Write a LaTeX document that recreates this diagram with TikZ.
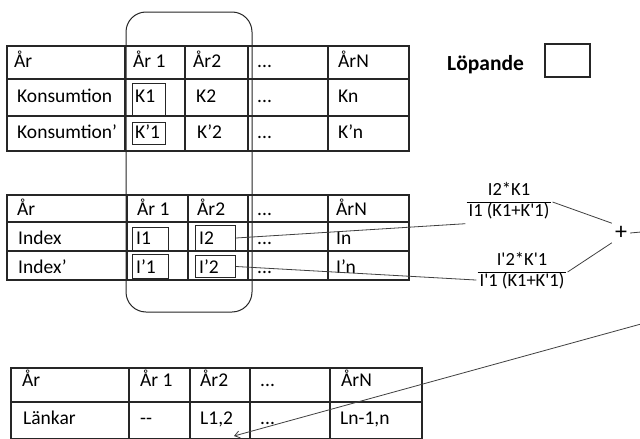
\documentclass[tikz,border=0pt]{standalone}
\usepackage{fontspec}
\setmainfont{Carlito}
\usetikzlibrary{arrows.meta}
\setlength{\arrayrulewidth}{1pt}
\begin{document}
\begin{tikzpicture}[x=1pt,y=-1pt,
  grid/.style={line width=1.1pt, black!85},
  cell/.style={anchor=base west, inner sep=0pt, font=\fontsize{19.5}{22}\selectfont},
  hl/.style={draw, line width=1pt, black!85, inner sep=0pt, anchor=north west},
  frac/.style={inner sep=1pt, font=\fontsize{18.5}{20}\selectfont},
  conn/.style={line width=0.8pt, black!75},
]
\useasboundingbox (0,0) rectangle (640,439);
\fill[white] (0,0) rectangle (640,439);
\clip (0,0) rectangle (640,439);

% ---------- top table ----------
\draw[grid] (7,46) rectangle (409,151);
\draw[grid] (7,79) -- (409,79) (7,116) -- (409,116);
\foreach \x in {125,185,248,328} \draw[grid] (\x,46) -- (\x,151);
\node[cell] (t11) at (14,67) {År};
\node[cell] (t12) at (133,67) {År 1};
\node[cell] (t13) at (193,67) {År2};
\node[cell] (t14) at (257,67) {...};
\node[cell] (t15) at (338,67) {ÅrN};
\node[cell] (t21) at (17,102) {Konsumtion};
\node[cell] (t22) at (135,102) {K1};
\node[cell] (t23) at (196,102) {K2};
\node[cell] (t24) at (257,102) {...};
\node[cell] (t25) at (338,102) {Kn};
\node[cell] (t31) at (17,138) {Konsumtion’};
\node[cell] (t32) at (135,138) {K’1};
\node[cell] (t33) at (197,138) {K’2};
\node[cell] (t34) at (257,138) {...};
\node[cell] (t35) at (338,138) {K’n};
\node[hl, minimum width=33pt, minimum height=32pt] (bK1) at (132,83) {};
\node[hl, minimum width=33pt, minimum height=22pt] (bK2) at (132,122) {};

% ---------- legend ----------
\node[anchor=base west, inner sep=0pt, font=\bfseries\fontsize{21.5}{24}\selectfont] (lop) at (447,70) {Löpande};
\node[draw, line width=1.8pt, black!85, inner sep=0pt, minimum width=45pt, minimum height=33pt, anchor=north west] (lopbox) at (544,43) {};

% ---------- middle table ----------
\draw[grid] (7,195) rectangle (409,280);
\draw[grid] (7,222) -- (409,222) (7,251) -- (409,251);
\foreach \x in {127,188,248,328} \draw[grid] (\x,195) -- (\x,280);
\node[cell] (m11) at (17,215) {År};
\node[cell] (m12) at (137,215) {År 1};
\node[cell] (m13) at (197,215) {År2};
\node[cell] (m14) at (257,215) {...};
\node[cell] (m15) at (336,215) {ÅrN};
\node[cell] (m21) at (18,244) {Index};
\node[cell] (m22) at (136,244) {I1};
\node[cell] (m23) at (199,244) {I2};
\node[cell] (m24) at (257,244) {...};
\node[cell] (m25) at (336,244) {In};
\node[cell] (m31) at (18,273) {Index’};
\node[cell] (m32) at (136,273) {I’1};
\node[cell] (m33) at (199,273) {I’2};
\node[cell] (m34) at (257,273) {...};
\node[cell] (m35) at (336,273) {I’n};
\node[hl, minimum width=36pt, minimum height=24pt] (bI1) at (132,227) {};
\node[hl, minimum width=36pt, minimum height=24pt] (bIp1) at (132,254) {};
\node[hl, minimum width=40pt, minimum height=25pt] (bI2) at (195,225) {};
\node[hl, minimum width=40pt, minimum height=22pt] (bIp2) at (195,255) {};

% ---------- selection frame ----------
\draw[line width=1pt, black!85, rounded corners=20pt] (126,12) rectangle (252,312);

% ---------- bottom table ----------
\draw[grid] (11,368) rectangle (422,438.5);
\draw[grid] (11,402) -- (422,402);
\foreach \x in {129,190,250,330} \draw[grid] (\x,368) -- (\x,438.5);
\node[cell] (b11) at (22,386) {År};
\node[cell] (b12) at (140,386) {År 1};
\node[cell] (b13) at (200,386) {År2};
\node[cell] (b14) at (260,386) {...};
\node[cell] (b15) at (341,386) {ÅrN};
\node[cell] (b21) at (23,424) {Länkar};
\node[cell] (b22) at (140,424) {-{}-};
\node[cell] (b23) at (200,424) {L1,2};
\node[cell] (b24) at (260,424) {...};
\node[cell] (b25) at (340,424) {Ln-1,n};

% ---------- fractions ----------
\node[frac] (f1) at (509,202) {\begin{tabular}{@{\hspace{2pt}}c@{\hspace{2pt}}}I2*K1\\\hline I1 (K1+K\textquotesingle1)\end{tabular}};
\node[frac] (f2) at (522,272) {\begin{tabular}{@{\hspace{2pt}}c@{\hspace{2pt}}}I\textquotesingle2*K\textquotesingle1\\\hline I\textquotesingle1 (K1+K\textquotesingle1)\end{tabular}};
\node[inner sep=3pt, font=\fontsize{24}{26}\selectfont] (plus) at (621,233) {+};

\coordinate (rA) at (641,232);
\coordinate (rB) at (641,324);
\coordinate (tipL) at (234,436);

% ---------- connectors ----------
\draw[conn] (bI2.east) -- (f1.south west);
\draw[conn] (bIp2.east) -- (f2.190);
\draw[conn] (f1.east) -- (plus.north west);
\draw[conn] (f2.east) -- (plus.south west);
\draw[conn] (plus.east) -- (rA);
\draw[conn, -{Straight Barb[length=5pt,width=7pt]}] (rB) -- (tipL);
\end{tikzpicture}
\end{document}
